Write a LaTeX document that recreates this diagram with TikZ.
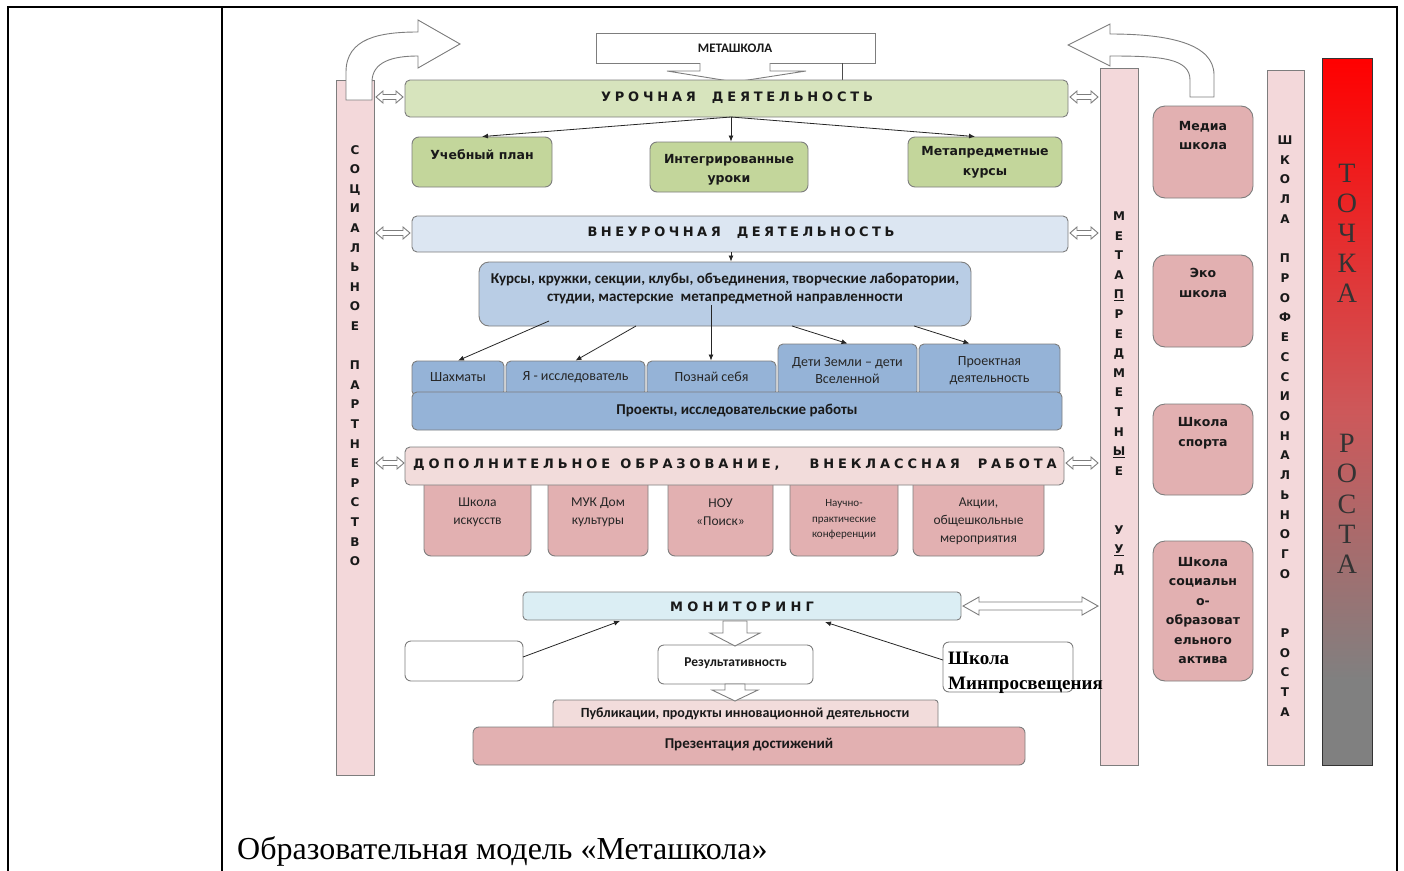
\documentclass[tikz,border=0pt]{standalone}
\usepackage{fontspec}
\setmainfont{Liberation Serif}
\newfontfamily\calfont{Carlito}
\newfontfamily\dvsfont{DejaVu Sans}
\usetikzlibrary{arrows.meta,fit}

\definecolor{lgray}{RGB}{125,125,125}
\definecolor{gbar}{RGB}{215,228,189}
\definecolor{gbox}{RGB}{195,214,155}
\definecolor{bbar}{RGB}{220,230,242}
\definecolor{bmid}{RGB}{185,205,229}
\definecolor{bdark}{RGB}{149,179,215}
\definecolor{pbar}{RGB}{242,220,219}
\definecolor{pbox}{RGB}{226,176,177}
\definecolor{pvert}{RGB}{243,216,218}
\definecolor{mbar}{RGB}{219,238,244}
\definecolor{tgray}{RGB}{128,128,128}
\definecolor{tmid}{RGB}{205,88,90}
\definecolor{tred}{RGB}{255,0,0}

\pgfdeclareverticalshading{tochkashade}{100bp}{color(0bp)=(tgray); color(31bp)=(tgray); color(50bp)=(tmid); color(75bp)=(tred); color(100bp)=(tred)}

\tikzset{
 bx/.style={draw=lgray, line width=0.9pt, rounded corners=7pt, inner sep=0pt},
 sq/.style={draw=lgray, line width=0.9pt, inner sep=0pt},
 conn/.style={draw=black!85, line width=0.8pt, -{Latex[length=6pt,width=5pt]}},
 hollow/.style={draw=lgray, line width=0.9pt, fill=white},
 vlet/.style={font=\dvsfont\bfseries\fontsize{12}{19.6}\selectfont, align=center, inner sep=0pt, text=black!90},
 bartitle/.style={font=\dvsfont\bfseries\fontsize{13}{15}\selectfont, inner sep=0pt, text=black!90},
 cbold/.style={font=\calfont\bfseries\fontsize{15}{18}\selectfont, align=center, inner sep=0pt, text=black!90},
 creg/.style={font=\calfont\fontsize{14}{17}\selectfont, align=center, inner sep=0pt, text=black!85},
 preg/.style={font=\calfont\fontsize{13.5}{18}\selectfont, align=center, inner sep=0pt, text=black!85},
 dbold/.style={font=\dvsfont\bfseries\fontsize{12.5}{19.5}\selectfont, align=center, inner sep=0pt, text=black!90},
}

\newcommand\dblarr[6]{\draw[hollow] (#1,#3) -- (#1+#6,#3-#5) -- (#1+#6,#3-#4) -- (#2-#6,#3-#4) -- (#2-#6,#3-#5) -- (#2,#3) -- (#2-#6,#3+#5) -- (#2-#6,#3+#4) -- (#1+#6,#3+#4) -- (#1+#6,#3+#5) -- cycle;}
\newcommand\downarr[6]{\draw[hollow] (#1-#5,#2) -- (#1+#5,#2) -- (#1+#5,#3) -- (#1+#6,#3) -- (#1,#4) -- (#1-#6,#3) -- (#1-#5,#3) -- cycle;}

\begin{document}
\begin{tikzpicture}[x=1pt,y=-1pt]
\useasboundingbox (0,0) rectangle (1404,870);

% table frame
\draw[line width=2.5pt] (8,871) -- (8,7) -- (1397,7) -- (1397,871);
\draw[line width=2.5pt] (222,7) -- (222,871);

% left vertical bar
\node[sq, fill=pvert, fit={(336,80)(374,775)}] (soc) {};
\draw[hollow] (346,100) -- (346,72) .. controls (346,38) and (380,32) .. (418,32) -- (418,20) -- (460,44) -- (418,68) -- (418,56) .. controls (392,56) and (372,62) .. (372,82) -- (372,100) -- cycle;
\node[vlet] (soct) at (355,355.5) {С\\О\\Ц\\И\\А\\Л\\Ь\\Н\\О\\Е\\~\\П\\А\\Р\\Т\\Н\\Е\\Р\\С\\Т\\В\\О};

% right vertical bars
\node[sq, fill=pvert, fit={(1100,68)(1138,765)}] (meta) {};
\node[vlet] (metat) at (1119,393.5) {М\\Е\\Т\\А\\\underline{П}\\Р\\Е\\Д\\М\\Е\\Т\\Н\\\underline{Ы}\\Е\\~\\~\\У\\\underline{У}\\Д};
\node[sq, fill=pvert, fit={(1267,70)(1304,765)}] (prof) {};
\node[vlet, font=\dvsfont\bfseries\fontsize{12}{19.72}\selectfont] (proft) at (1285,426) {Ш\\К\\О\\Л\\А\\~\\П\\Р\\О\\Ф\\Е\\С\\С\\И\\О\\Н\\А\\Л\\Ь\\Н\\О\\Г\\О\\~\\~\\Р\\О\\С\\Т\\А};
\node[draw=black!80, line width=1pt, shade, shading=tochkashade, inner sep=0pt, fit={(1322,58)(1372,765)}] (tochka) {};
\node[font=\fontsize{28}{30.08}\selectfont, align=center, inner sep=0pt, text=black!80] (tochkat) at (1347,368.5) {Т\\О\\Ч\\К\\А\\~\\~\\~\\~\\Р\\О\\С\\Т\\А};

% right curved arrow
\draw[hollow] (1214,97) -- (1214,75) .. controls (1214,44) and (1170,34) .. (1110,34) -- (1110,24) -- (1068,45) -- (1110,66) -- (1110,56) .. controls (1160,56) and (1190,58) .. (1190,80) -- (1190,97) -- cycle;

% school boxes on the right
\node[bx, rounded corners=12pt, fill=pbox, fit={(1153,106)(1253,198)}] (media) {};
\node[dbold] (mediat) at (1203,135.5) {Медиа\\школа};
\node[bx, rounded corners=12pt, fill=pbox, fit={(1153,255)(1253,347)}] (eco) {};
\node[dbold] (ecot) at (1203,283) {Эко\\школа};
\node[bx, rounded corners=12pt, fill=pbox, fit={(1153,404)(1253,495)}] (sport) {};
\node[dbold] (sportt) at (1203,433) {Школа\\спорта};
\node[bx, rounded corners=12pt, fill=pbox, fit={(1153,541)(1253,681)}] (socakt) {};
\node[dbold] (socaktt) at (1203,610.5) {Школа\\социальн\\о-\\образоват\\ельного\\актива};

% METASHKOLA
\node[sq, fill=white, fit={(596,33)(875,63)}] (metash) {};
\node[cbold, font=\calfont\bfseries\fontsize{13}{15}\selectfont] (metasht) at (735,48) {МЕТАШКОЛА};
\draw[hollow] (700,63) -- (700,71) -- (667,71) -- (735,82) -- (806,71) -- (770,71) -- (770,63);
\coordinate (mx) at (842,0);
\draw[draw=black!70, line width=1pt] (metash.south -| mx) -- (842,80);

% urochnaya
\node[bx, rounded corners=5pt, fill=gbar, fit={(405,80)(1068,117)}] (uroch) {};
\node[bartitle] (urocht) at (737,98) {\spaceskip=3.8pt У Р О Ч Н А Я\hspace{16pt}Д Е Я Т Е Л Ь Н О С Т Ь};
\node[bx, fill=gbox, fit={(412,137)(552,187)}] (uplan) {};
\node[dbold] (uplant) at (482,155) {Учебный план};
\node[bx, fill=gbox, fit={(650,142)(808,192)}] (integ) {};
\node[dbold] (integt) at (729,170) {Интегрированные\\уроки};
\node[bx, fill=gbox, fit={(908,137)(1062,187)}] (metak) {};
\node[dbold] (metakt) at (985,162.5) {Метапредметные\\курсы};
\coordinate (u0) at (731,117);
\draw[conn] (u0) -- (uplan.north);
\draw[conn] (u0) -- (u0 |- integ.north);
\draw[conn] (u0) -- ([xshift=-10pt]metak.north);

% vneurochnaya
\node[bx, rounded corners=5pt, fill=bbar, fit={(412,216)(1068,252)}] (vneur) {};
\node[bartitle] (vneurt) at (741,233) {\spaceskip=3.5pt В Н Е У Р О Ч Н А Я\hspace{16pt}Д Е Я Т Е Л Ь Н О С Т Ь};
\node[bx, rounded corners=10pt, fill=bmid, fit={(479,262)(971,326)}] (kursy) {};
\node[cbold] (kursyt) at (725,289) {Курсы, кружки, секции, клубы, объединения, творческие лаборатории,\\студии, мастерские\ \ метапредметной направленности};
\coordinate (v0) at (731,252);
\draw[conn] (v0) -- (v0 |- kursy.north);

\node[bx, rounded corners=5pt, fill=bdark, fit={(412,361)(504,396)}] (shakh) {};
\node[creg] (shakht) at (458,377) {Шахматы};
\node[bx, rounded corners=5pt, fill=bdark, fit={(506,361)(645,396)}] (ya) {};
\node[creg] (yat) at (575.5,377) {Я - исследователь};
\node[bx, rounded corners=5pt, fill=bdark, fit={(647,361)(776,396)}] (poz) {};
\node[creg] (pozt) at (711.5,377) {Познай себя};
\node[bx, rounded corners=5pt, fill=bdark, fit={(778,344)(917,396)}] (deti) {};
\node[creg] (detit) at (847.5,370.5) {Дети Земли – дети\\Вселенной};
\node[bx, rounded corners=5pt, fill=bdark, fit={(919,344)(1060,396)}] (proekt) {};
\node[creg] (proektt) at (989.5,370.5) {Проектная\\деятельность};
\node[bx, rounded corners=5pt, fill=bdark, fit={(412,392)(1062,430)}] (projects) {};
\node[cbold] (projectst) at (737,411) {Проекты, исследовательские работы};

\coordinate (k1) at (549,321);
\coordinate (k2) at (636,326);
\coordinate (k3) at (711,305);
\coordinate (k4) at (792,326);
\coordinate (k5) at (914,326);
\draw[conn] (k1) -- (shakh.north);
\draw[conn] (k2) -- (ya.north);
\draw[conn] (k3) -- (k3 |- poz.north);
\draw[conn] (k4) -- (deti.north);
\draw[conn] (k5) -- ([xshift=-20pt]proekt.north);

% dopolnitelnoe
\node[bx, fill=pbox, fit={(424,478)(531,556)}] (shi) {};
\node[preg] (shit) at (477.5,512) {Школа\\искусств};
\node[bx, fill=pbox, fit={(548,478)(648,556)}] (muk) {};
\node[preg] (mukt) at (598,512) {МУК Дом\\культуры};
\node[bx, fill=pbox, fit={(668,478)(773,556)}] (nou) {};
\node[preg] (nout) at (720.5,512) {НОУ\\«Поиск»};
\node[bx, fill=pbox, fit={(790,478)(898,556)}] (npk) {};
\node[preg, font=\calfont\fontsize{11}{15.5}\selectfont] (npkt) at (844,519.5) {Научно-\\практические\\конференции};
\node[bx, fill=pbox, fit={(913,478)(1044,556)}] (akc) {};
\node[preg] (akct) at (978.5,521.5) {Акции,\\общешкольные\\мероприятия};
\node[bx, rounded corners=5pt, fill=pbar, fit={(405,447)(1064,485)}] (dop) {};
\node[bartitle] (dopt) at (735,465) {\spaceskip=3.9pt Д О П О Л Н И Т Е Л Ь Н О Е\hspace{10pt}О Б Р А З О В А Н И Е ,\hspace{30pt}В Н Е К Л А С С Н А Я\hspace{18pt}Р А Б О Т А};

% double arrows to side bars
\dblarr{376}{403}{97}{2.5}{6}{7}
\dblarr{1070}{1098}{97}{2.5}{6}{7}
\dblarr{376}{410}{233}{2.5}{6}{7}
\dblarr{1070}{1098}{233}{2.5}{6}{7}
\dblarr{376}{404}{463}{2.5}{6}{7}
\dblarr{1066}{1098}{463}{2.5}{6}{7}

% monitoring
\node[bx, rounded corners=4pt, fill=mbar, fit={(523,592)(961,620)}] (monit) {};
\node[bartitle] (monitt) at (742,607) {\spaceskip=4.3pt М О Н И Т О Р И Н Г};
\dblarr{963}{1098}{606}{4}{9}{16}
\node[bx, rounded corners=6pt, fill=white, fit={(405,641)(523,681)}] (blank) {};
\node[bx, rounded corners=6pt, fill=white, fit={(658,645)(813,684)}] (rez) {};
\node[cbold, font=\calfont\bfseries\fontsize{13.5}{16}\selectfont] (rezt) at (735.5,663) {Результативность};
\node[bx, rounded corners=6pt, fill=white, fit={(943,642)(1073,692)}] (shk) {};
\node[anchor=base west, inner sep=0pt, font=\bfseries\fontsize{19}{22}\selectfont] (shkt1) at (948,664) {Школа};
\node[anchor=base west, inner sep=0pt, font=\bfseries\fontsize{19}{22}\selectfont] (shkt2) at (948,689) {Минпросвещения};
\downarr{735}{621}{633}{646}{12}{25}
\coordinate (bl1) at (523,657);
\coordinate (mon1) at (620,621);
\coordinate (sh1) at (943,660);
\coordinate (mon2) at (825,622);
\draw[conn] (bl1) -- (mon1);
\draw[conn] (sh1) -- (mon2);

\node[bx, rounded corners=3pt, fill=pbar, fit={(553,700)(938,730)}] (pub) {};
\node[cbold, font=\calfont\bfseries\fontsize{14}{16}\selectfont] (pubt) at (745,714) {Публикации, продукты инновационной деятельности};
\node[bx, rounded corners=6pt, fill=pbox, fit={(473,727)(1025,765)}] (pres) {};
\node[cbold] (prest) at (749,745) {Презентация достижений};
\downarr{735}{684}{690}{701}{10}{23}

% caption
\node[anchor=base west, inner sep=0pt, font=\fontsize{32}{36}\selectfont] (cap) at (237,859) {Образовательная модель «Меташкола»};
\end{tikzpicture}
\end{document}
